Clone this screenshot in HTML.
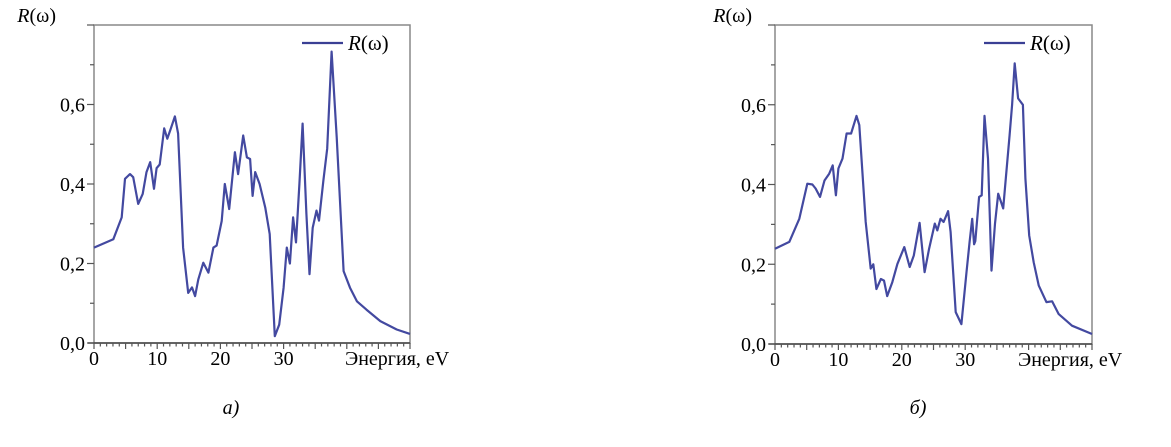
<!DOCTYPE html>
<html><head><meta charset="utf-8"><style>
body{margin:0;background:#fff;}
svg{display:block;font-family:"Liberation Serif",serif;}
</style></head><body>
<svg width="1171" height="447" viewBox="0 0 1171 447" id="fig"></svg>
<script>
const xTickLabels=["0","10","20","30"];
const yTickLabels=["0,0","0,2","0,4","0,6"];
const energyA=[0,3.06,4.38,4.9,5.7,6.2,7.0,7.7,8.3,8.9,9.5,9.9,10.4,11.1,11.6,12.1,12.8,13.3,14.1,14.9,15.5,16.0,16.5,17.3,18.1,18.9,19.4,20.2,20.7,21.4,22.3,22.8,23.6,24.2,24.7,25.1,25.5,26.2,27.1,27.8,28.6,29.3,30.0,30.5,31.0,31.5,31.96,32.5,33.0,33.6,34.1,34.6,35.2,35.6,36.3,36.9,37.6,38.4,39.5,40.5,41.6,43.1,45.3,47.9,50];
const reflA=[0.24,0.261,0.316,0.413,0.425,0.417,0.35,0.375,0.43,0.455,0.388,0.44,0.449,0.54,0.514,0.537,0.57,0.527,0.24,0.126,0.14,0.118,0.16,0.202,0.177,0.24,0.245,0.307,0.4,0.337,0.48,0.425,0.522,0.467,0.463,0.37,0.43,0.4,0.34,0.274,0.017,0.046,0.139,0.24,0.2,0.316,0.253,0.4,0.552,0.325,0.173,0.29,0.333,0.308,0.409,0.489,0.733,0.518,0.181,0.139,0.105,0.084,0.055,0.034,0.023];
const energyB=[0,2.26,3.83,5.1,5.9,6.4,7.1,7.8,8.55,9.1,9.6,10.0,10.65,11.3,12.0,12.85,13.3,14.3,15.1,15.5,16.0,16.7,17.2,17.7,18.5,19.3,20.4,21.25,21.9,22.8,23.6,24.3,25.2,25.6,26.1,26.6,27.3,27.7,28.5,29.4,30.2,30.7,31.1,31.4,31.6,32.2,32.6,33.05,33.6,34.15,34.7,35.2,36.0,36.4,37.0,37.4,37.8,38.35,39.1,39.5,40.1,40.8,41.6,42.8,43.7,44.75,46.85,50];
const reflB=[0.239,0.256,0.314,0.402,0.4,0.39,0.369,0.41,0.427,0.448,0.373,0.44,0.465,0.528,0.528,0.572,0.549,0.306,0.189,0.2,0.138,0.163,0.159,0.12,0.155,0.201,0.243,0.193,0.222,0.304,0.18,0.239,0.302,0.285,0.314,0.306,0.333,0.281,0.08,0.05,0.18,0.256,0.314,0.25,0.258,0.369,0.373,0.572,0.465,0.184,0.302,0.377,0.34,0.415,0.524,0.6,0.704,0.616,0.6,0.415,0.272,0.205,0.147,0.105,0.107,0.075,0.046,0.025];
const NS="http://www.w3.org/2000/svg";
const svg=document.getElementById('fig');
function mk(tag,attrs,parent,text){const e=document.createElementNS(NS,tag);for(const k in attrs)e.setAttribute(k,attrs[k]);if(text!==undefined)e.textContent=text;(parent||svg).appendChild(e);return e;}
function panel(id,x0,x1,y0,yTop,xs,ys,caption,capX,xTitleX,yTitleEnd){
  const g=mk('g',{});
  
  
  const sx=v=>x0+(x1-x0)*v/50;
  const sy=v=>y0-(y0-yTop)*v/0.8;
  const frame=mk('rect',{x:x0,y:yTop,width:x1-x0,height:y0-yTop,fill:'none',stroke:'#888','stroke-width':1.5},g);
  
  
  const ax=mk('line',{x1:x0-6,y1:y0,x2:x1,y2:y0,stroke:'#444','stroke-width':1.5},g);
  
  
  for(let i=0;i<=50;i++){const len=i%5===0?6:3.5;mk('line',{x1:sx(i),y1:y0,x2:sx(i),y2:y0+len,stroke:'#555','stroke-width':1.2},g);}
  for(let i=0;i<=8;i++){const len=i%2===0?7:4;mk('line',{x1:x0,y1:sy(i*0.1),x2:x0-len,y2:sy(i*0.1),stroke:'#555','stroke-width':1.2},g);}
  xTickLabels.forEach((t,i)=>{const e=mk('text',{x:sx(i*10),y:y0+22,'text-anchor':'middle','font-size':20},g,t);
    
    });
  yTickLabels.forEach((t,i)=>{const e=mk('text',{x:x0-9,y:sy(i*0.2)+7,'text-anchor':'end','font-size':20},g,t);
    
    });
  const xt=mk('text',{x:xTitleX,y:y0+22,'font-size':20},g,'Энергия, eV');
  
  
  const yt=mk('text',{x:yTitleEnd,y:yTop-3,'text-anchor':'end','font-size':20},g);
  
  
  mk('tspan',{'font-style':'italic'},yt,'R');mk('tspan',{},yt,'(ω)');
  let d='';xs.forEach((v,i)=>{d+=(i?'L':'M')+sx(v).toFixed(1)+' '+sy(ys[i]).toFixed(1);});
  const p=mk('path',{d:d,fill:'none',stroke:'#4349a0','stroke-width':2.2,'stroke-linejoin':'round'},g);
  
  
  const ll=mk('line',{x1:x1-108,y1:yTop+18,x2:x1-67,y2:yTop+18,stroke:'#3a3f94','stroke-width':2.2},g);
  
  
  const lt=mk('text',{x:x1-62,y:yTop+25,'font-size':21},g);
  
  
  mk('tspan',{'font-style':'italic'},lt,'R');mk('tspan',{},lt,'(ω)');
  const c=mk('text',{x:capX,y:414,'font-size':20,'font-style':'italic','text-anchor':'middle'},g,caption);
  
  
}
panel('a',94,410,343,25,energyA,reflA,'а)',231,345,56);
panel('b',775,1092,344,25,energyB,reflB,'б)',918,1018,752);
</script>
</body></html>
